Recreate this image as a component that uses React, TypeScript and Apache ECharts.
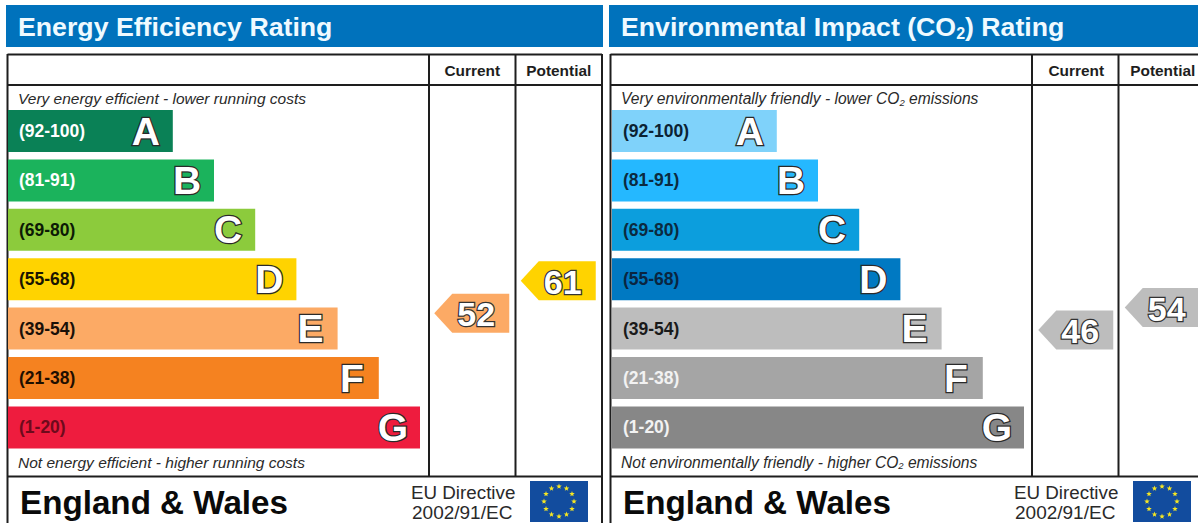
import React, { useEffect, useRef } from "react";
import * as echarts from "echarts";

const letters = ["A", "B", "C", "D", "E", "F", "G"];
const ranges = ["(92-100)", "(81-91)", "(69-80)", "(55-68)", "(39-54)", "(21-38)", "(1-20)"];
const bandHigh = [100, 91, 80, 68, 54, 38, 20];
const bandLow = [92, 81, 69, 55, 39, 21, 1];
const barLengths = [4, 5, 6, 7, 8, 9, 10];
const columns = ["Current", "Potential"];

const energyColors = ["#0A8156", "#1BB35C", "#8CCB3C", "#FFD300", "#FCAA65", "#F58220", "#EE1C3E"];
const energyLabelColors = ["#FFFFFF", "#FFFFFF", "#0C1A05", "#1A1500", "#1A1008", "#1F0F00", "#6E0A1C"];
const energyRatings = [52, 61];

const envColors = ["#7FD2FA", "#25B8FF", "#0C9EDD", "#0079C2", "#BDBDBD", "#A5A5A5", "#878787"];
const envLabelColors = ["#0B2233", "#0B2A40", "#0B2A40", "#0A2540", "#1A1A1A", "#F2F2F2", "#F2F2F2"];
const envRatings = [46, 54];

const FONT = "'Liberation Sans', Arial, sans-serif";
const ROW_H = 49.4;
const TOP = 106.3;
const BAR_FRAC = 0.85;

const bandOf = (r: number) => bandHigh.findIndex((h, i) => r <= h && r >= bandLow[i]);
const rowPos = (r: number) => {
  const i = bandOf(r);
  return i + (1 - BAR_FRAC) / 2 + (BAR_FRAC * (bandHigh[i] - r)) / (bandHigh[i] - bandLow[i]);
};

const outlined = (size: number) => ({
  fontFamily: FONT,
  fontWeight: "bold" as const,
  fontSize: size,
  color: "#FFFFFF",
  textBorderColor: "#2A2A2A",
  textBorderWidth: 2.5,
});

function star(cx: number, cy: number, r: number) {
  const pts: number[][] = [];
  for (let i = 0; i < 10; i++) {
    const a = -Math.PI / 2 + (i * Math.PI) / 5;
    const rad = i % 2 === 0 ? r : r * 0.42;
    pts.push([cx + rad * Math.cos(a), cy + rad * Math.sin(a)]);
  }
  return { type: "polygon", silent: true, shape: { points: pts }, style: { fill: "#F5E623" } };
}

function line(x1: number, y1: number, x2: number, y2: number) {
  return { type: "line", silent: true, shape: { x1, y1, x2, y2 }, style: { stroke: "#1E1E1E", lineWidth: 2 } };
}

function text(x: number, y: number, t: string, style: any) {
  return { type: "text", silent: true, x, y, style: { text: t, fontFamily: FONT, verticalAlign: "middle", ...style } };
}

function panelGraphics(dx: number, title: string, top: string, bottom: string) {
  const cap: any = {
    fontStyle: "italic",
    fontSize: 15.5,
    fill: "#2A2A2A",
    rich: {
      a: { fontFamily: FONT, fontStyle: "italic", fontSize: 15.6, color: "#2A2A2A" },
      s: { fontFamily: FONT, fontStyle: "italic", fontSize: 9.5, color: "#2A2A2A", verticalAlign: "bottom", padding: [7, 0, 0, 0] },
    },
  };
  const titleStyle: any = {
    fontWeight: "bold",
    fontSize: 26.7,
    fill: "#EFFAFF",
    rich: {
      a: { fontFamily: FONT, fontWeight: "bold", fontSize: 26.7, color: "#EFFAFF" },
      s: { fontFamily: FONT, fontWeight: "bold", fontSize: 16, color: "#EFFAFF", padding: [12, 0, 0, 0] },
    },
  };
  const flagX = dx + 530;
  const stars = Array.from({ length: 12 }, (_, i) => {
    const a = (i * Math.PI) / 6;
    return star(flagX + 29 + 15 * Math.sin(a), 501.5 + 15 * Math.cos(a), 2.9);
  });
  return [
    { type: "rect", silent: true, shape: { x: dx + 6, y: 5, width: 597, height: 42 }, style: { fill: "#0072BC" } },
    text(dx + 18, 27, title, titleStyle),
    line(dx + 7.5, 54.5, dx + 602, 54.5),
    line(dx + 7.5, 85, dx + 602, 85),
    line(dx + 7.5, 476.5, dx + 602, 476.5),
    line(dx + 7.5, 54, dx + 7.5, 523),
    line(dx + 602, 54, dx + 602, 523),
    line(dx + 429, 54, dx + 429, 476),
    line(dx + 515.5, 54, dx + 515.5, 476),
    text(dx + 18, 98.5, top, cap),
    text(dx + 18, 462, bottom, cap),
    text(dx + 20, 502, "England & Wales", { fontWeight: "bold", fontSize: 33.2, fill: "#0A0A0A" }),
    text(dx + 411, 492.5, "EU Directive", { fontSize: 18.8, fill: "#2A2A2A" }),
    text(dx + 412, 512.5, "2002/91/EC", { fontSize: 19, fill: "#2A2A2A" }),
    { type: "rect", silent: true, shape: { x: flagX, y: 481, width: 58, height: 41 }, style: { fill: "#124C9E" } },
    ...stars,
  ];
}

function makePanel(idx: number, left: number, colors: string[], labelColors: string[], ratings: number[]) {
  const g = idx * 2;
  const rows = letters.map((_, i) => i);
  return {
    grid: [
      { left, top: TOP, width: 412, height: ROW_H * 7, outerBoundsMode: "none" },
      { left: left + 421, top: TOP, width: 173, height: ROW_H * 7, outerBoundsMode: "none" },
    ],
    xAxis: [
      { gridIndex: g, type: "value", min: 0, max: 10, show: false },
      {
        gridIndex: g + 1,
        type: "category",
        position: "top",
        data: columns,
        axisLine: { show: false },
        axisTick: { show: false },
        axisLabel: { margin: 28, fontFamily: FONT, fontWeight: "bold", fontSize: 15.4, color: "#1E1E1E" },
      },
    ],
    yAxis: [
      { gridIndex: g, type: "category", inverse: true, data: letters, show: false },
      { gridIndex: g + 1, type: "value", inverse: true, min: 0, max: 7, show: false },
    ],
    series: [
      {
        type: "bar",
        xAxisIndex: g,
        yAxisIndex: g,
        barWidth: "85%",
        barGap: "-100%",
        silent: true,
        data: rows.map((i) => ({
          value: barLengths[i],
          itemStyle: { color: colors[i] },
          label: { color: labelColors[i] },
        })),
        label: {
          show: true,
          position: "insideLeft",
          distance: 11,
          fontFamily: FONT,
          fontWeight: "bold",
          fontSize: 17.5,
          formatter: (p: any) => ranges[p.dataIndex],
        },
      },
      {
        type: "bar",
        xAxisIndex: g,
        yAxisIndex: g,
        barWidth: "85%",
        barGap: "-100%",
        silent: true,
        itemStyle: { color: "transparent" },
        data: barLengths,
        label: {
          show: true,
          position: "insideRight",
          distance: 27,
          align: "center",
          ...outlined(39),
          formatter: (p: any) => letters[p.dataIndex],
        },
      },
      {
        type: "custom",
        xAxisIndex: g + 1,
        yAxisIndex: g + 1,
        silent: true,
        clip: false,
        data: ratings.map((r, c) => [c, r]),
        encode: { x: 0, y: 1 },
        renderItem: (_: any, api: any) => {
          const r = api.value(1) as number;
          const [cx, cy] = api.coord([api.value(0), rowPos(r)]);
          const h = 19.5;
          const pts = [
            [cx - 38, cy],
            [cx - 20, cy - h],
            [cx + 37, cy - h],
            [cx + 37, cy + h],
            [cx - 20, cy + h],
          ];
          return {
            type: "group",
            children: [
              { type: "polygon", shape: { points: pts }, style: { fill: colors[bandOf(r)] } },
              {
                type: "text",
                x: cx + 4,
                y: cy + 1,
                style: {
                  text: String(r),
                  align: "center",
                  verticalAlign: "middle",
                  fontFamily: FONT,
                  fontWeight: "bold",
                  fontSize: 34,
                  fill: "#FFFFFF",
                  stroke: "#333333",
                  lineWidth: 2.5,
                },
              },
            ],
          };
        },
      },
    ],
  };
}

export default function App() {
  const ref = useRef<HTMLDivElement>(null);
  useEffect(() => {
    document.body.style.margin = "0";
    document.body.style.overflow = "hidden";
    const chart = echarts.init(ref.current!, null, { renderer: "svg" });
    const a = makePanel(0, 8, energyColors, energyLabelColors, energyRatings);
    const b = makePanel(1, 612, envColors, envLabelColors, envRatings);
    chart.setOption({
      animation: false,
      backgroundColor: "#FFFFFF",
      grid: [...a.grid, ...b.grid],
      xAxis: [...a.xAxis, ...b.xAxis],
      yAxis: [...a.yAxis, ...b.yAxis],
      series: [...a.series, ...b.series],
      graphic: {
        elements: [
          ...panelGraphics(
            0,
            "Energy Efficiency Rating",
            "Very energy efficient - lower running costs",
            "Not energy efficient - higher running costs"
          ),
          ...panelGraphics(
            603,
            "{a|Environmental Impact (CO}{s|2}{a|) Rating}",
            "{a|Very environmentally friendly - lower CO}{s|2}{a| emissions}",
            "{a|Not environmentally friendly - higher CO}{s|2}{a| emissions}"
          ),
        ],
      },
    });
    return () => chart.dispose();
  }, []);
  return <div ref={ref} style={{ position: "absolute", left: 0, top: 0, width: 1198, height: 523 }} />;
}
